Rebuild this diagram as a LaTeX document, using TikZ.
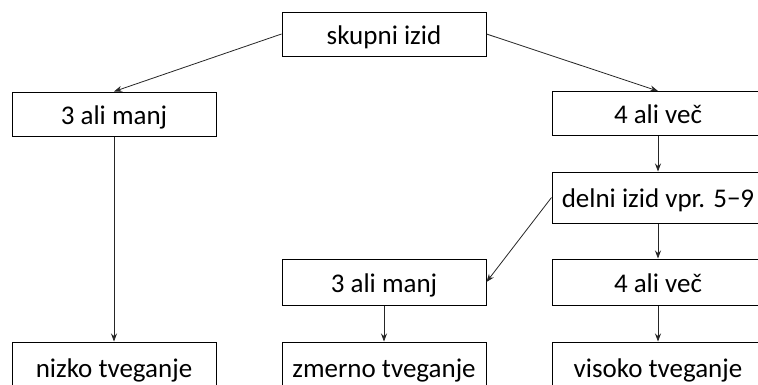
\documentclass[tikz,border=0pt]{standalone}
\usepackage{fontspec}
\setmainfont{Carlito}
\usetikzlibrary{arrows.meta}
\begin{document}
\begin{tikzpicture}[x=1pt,y=-1pt,
 box/.style={draw=black,line width=1pt,inner sep=0pt,minimum width=204pt,minimum height=44pt,
   text height=22pt,text depth=2pt,font=\fontsize{27}{30}\selectfont,fill=white},
 wide/.style={minimum width=212pt},
 conn/.style={draw=black!85,line width=0.8pt,-{Stealth[length=8pt,width=6pt]}}]
\useasboundingbox[fill=white] (0,0) rectangle (758,384);
\node[box] (top) at (384,34) {skupni izid};
\node[box] (l3) at (114,114) {3 ali manj};
\node[box,wide] (r4a) at (658,113.5) {4 ali več};
\node[box,wide,minimum height=51pt] (del) at (658,197.5) {delni izid vpr. 5−9};
\node[box,minimum height=46pt] (m3) at (384,282) {3 ali manj};
\node[box,wide,minimum height=46pt] (r4b) at (658,282) {4 ali več};
\node[box,minimum height=50pt] (low) at (114,367) {nizko tveganje};
\node[box,minimum height=50pt] (mid) at (384,367) {zmerno tveganje};
\node[box,wide,minimum height=50pt] (high) at (658,367) {visoko tveganje};
\draw[conn] (top.west) -- (l3.north);
\draw[conn] (top.east) -- (r4a.north);
\draw[conn] (l3.south) -- (low.north);
\draw[conn] (r4a.south) -- (del.north);
\draw[conn] (del.south) -- (r4b.north);
\draw[conn] (del.west) -- (m3.east);
\draw[conn] (m3.south) -- (mid.north);
\draw[conn] (r4b.south) -- (high.north);
\end{tikzpicture}
\end{document}
